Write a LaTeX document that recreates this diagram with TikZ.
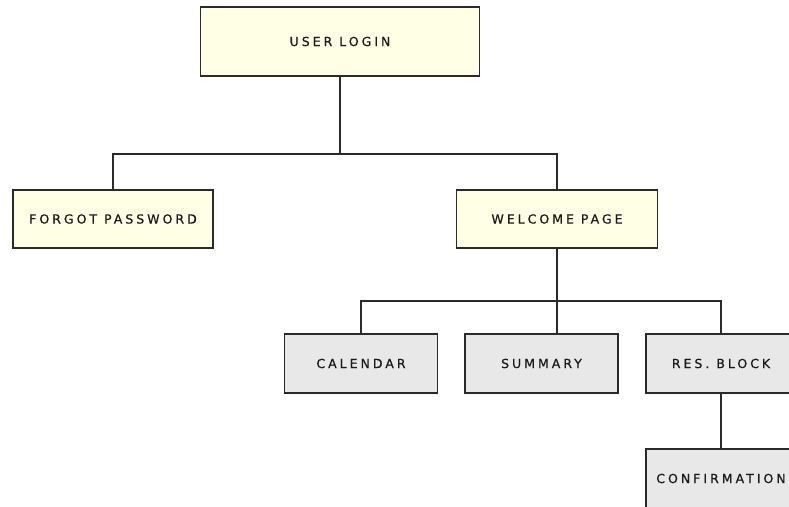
\documentclass[tikz,border=0pt]{standalone}
\usepackage{fontspec}
\newfontfamily\boxfont[LetterSpace=24,FakeBold=0.6]{DejaVu Sans}
\definecolor{cream}{HTML}{FFFFE6}
\definecolor{lgray}{HTML}{E8E8E8}
\definecolor{edge}{HTML}{2A2A2A}
\begin{document}
\begin{tikzpicture}[x=1pt,y=-1pt,
  box/.style={draw=edge,line width=1.5pt,inner sep=0pt,text=black!90,
    font=\boxfont\fontsize{12.5}{14}\selectfont},
  ybox/.style={box,fill=cream},
  gbox/.style={box,fill=lgray},
  conn/.style={draw=edge,line width=1.5pt}]
\useasboundingbox (0,0) rectangle (789,506);
\clip (0,0) rectangle (789,506);
\node[ybox,minimum width=279pt,minimum height=69pt] (login) at (340,41.5) {USER LOGIN};
\node[ybox,minimum width=200pt,minimum height=58pt] (forgot) at (113,219) {FORGOT PASSWORD};
\node[ybox,minimum width=201pt,minimum height=58pt] (welcome) at (557,219) {WELCOME PAGE};
\node[gbox,minimum width=153pt,minimum height=59pt] (calendar) at (361,363.5) {CALENDAR};
\node[gbox,minimum width=153pt,minimum height=59pt] (summary) at (541.5,363.5) {SUMMARY};
\node[gbox,minimum width=150pt,minimum height=59pt] (resblock) at (721,363.5) {RES. BLOCK};
\node[gbox,minimum width=150pt,minimum height=59pt] (confirm) at (721,478.5) {CONFIRMATION};
\coordinate (j1) at (340,154);
\coordinate (j2) at (557,301);
\draw[conn] (login.south) -- (j1);
\draw[conn] (forgot.north) |- (j1) -| (welcome.north);
\draw[conn] (welcome.south) -- (summary.north -| j2);
\draw[conn] (calendar.north) |- (j2) -| (resblock.north);
\draw[conn] (resblock.south) -- (confirm.north);
\end{tikzpicture}
\end{document}
